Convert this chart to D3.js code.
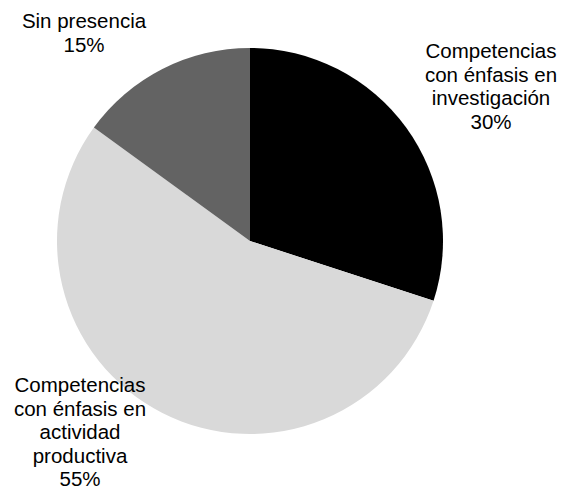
<!DOCTYPE html>
<html>
<head>
<meta charset="utf-8">
<script src="https://cdn.jsdelivr.net/npm/d3@7"></script>
<style>
  html, body { margin: 0; padding: 0; background: #fff; }
  svg { display: block; }
  text { font-family: "Liberation Sans", Arial, sans-serif; fill: #000; }
</style>
</head>
<body>
<svg id="chart" width="564" height="491"></svg>
<script>
// Distribution of competences
const categories = [
  "Competencias con énfasis en investigación",
  "Competencias con énfasis en actividad productiva",
  "Sin presencia"
];
const values = [30, 55, 15];
const colors = ["#000000", "#d9d9d9", "#636363"];

// Label lines per slice (wrapped as shown) and their anchor points
const labelLines = [
  ["Competencias", "con énfasis en", "investigación", "30%"],
  ["Competencias", "con énfasis en", "actividad", "productiva", "55%"],
  ["Sin presencia", "15%"]
];
const labelPos = [[491, 58], [80, 392], [84, 28]];

const svg = d3.select("#chart");
const cx = 250, cy = 241, r = 193;

const pie = d3.pie().sort(null).value(d => d)(values);
const arc = d3.arc().innerRadius(0).outerRadius(r);

const g = svg.append("g").attr("transform", `translate(${cx},${cy})`);
g.selectAll("path")
  .data(pie)
  .join("path")
  .attr("d", arc)
  .attr("fill", (d, i) => colors[i]);

const lineH = 23.5;
labelLines.forEach((lines, i) => {
  const t = svg.append("text")
    .attr("text-anchor", "middle")
    .attr("font-size", 20.5)
    .attr("x", labelPos[i][0])
    .attr("y", labelPos[i][1]);
  lines.forEach((ln, k) => {
    const txt = ln === lines[lines.length - 1]
      ? d3.format(".0f")(values[i]) + "%"
      : ln;
    t.append("tspan")
      .attr("x", labelPos[i][0])
      .attr("dy", k === 0 ? 0 : lineH)
      .text(txt);
  });
});
</script>
</body>
</html>
